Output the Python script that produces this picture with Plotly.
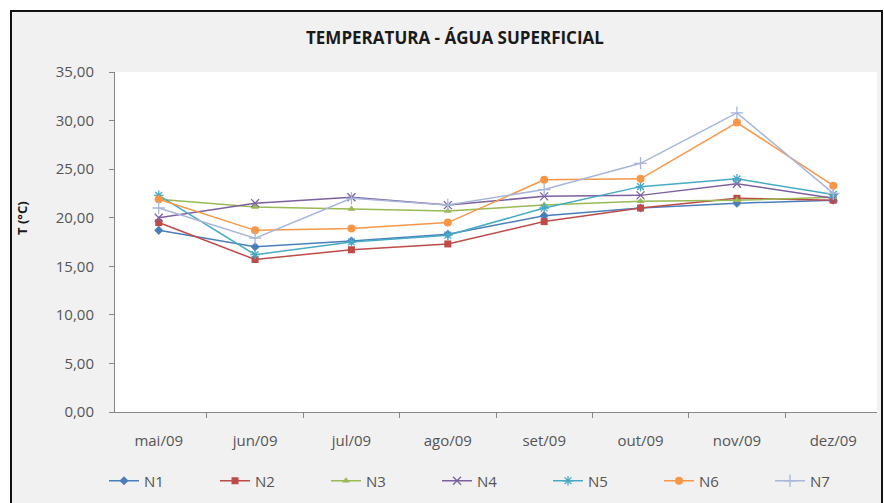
import plotly.graph_objects as go

months = ["mai/09", "jun/09", "jul/09", "ago/09", "set/09", "out/09", "nov/09", "dez/09"]
N1 = [18.7, 17.0, 17.6, 18.3, 20.2, 21.0, 21.5, 21.8]
N2 = [19.5, 15.7, 16.7, 17.3, 19.6, 21.0, 22.0, 21.8]
N3 = [21.9, 21.1, 20.9, 20.7, 21.3, 21.7, 21.8, 22.1]
N4 = [20.0, 21.5, 22.1, 21.3, 22.2, 22.3, 23.5, 22.0]
N5 = [22.3, 16.2, 17.5, 18.2, 21.0, 23.2, 24.0, 22.4]
N6 = [21.9, 18.7, 18.9, 19.5, 23.9, 24.0, 29.8, 23.3]
N7 = [21.0, 17.9, 22.0, 21.3, 22.9, 25.6, 30.8, 22.5]
series_names = ["N1", "N2", "N3", "N4", "N5", "N6", "N7"]
series_values = [N1, N2, N3, N4, N5, N6, N7]

colors = ["#4A7EBB", "#BE4B48", "#98B954", "#7D60A0", "#46AAC5", "#F79646", "#A8B6DA"]
symbols = ["diamond", "square", "triangle-up", "x-thin-open", "asterisk-open", "circle", "cross-thin-open"]
sizes = [7, 7, 7, 8, 8, 8, 9]

W, H = 884, 503
L, R, T, B = 115, 7, 72, 91
pw, ph = W - L - R, H - T - B

def px(x):
    return (x - L) / pw

def py(y):
    return (H - B - y) / ph

fig = go.Figure()
for name, vals, c, s, sz in zip(series_names, series_values, colors, symbols, sizes):
    open_sym = s.endswith("open")
    fig.add_trace(go.Scatter(
        x=months, y=vals, name=name, mode="lines+markers",
        line=dict(color=c, width=1.5),
        marker=dict(symbol=s, size=sz, color=c,
                    line=dict(color=c, width=1.3 if open_sym else 0)),
    ))

font = "Open Sans, Liberation Sans, sans-serif"

shapes = [
    dict(type="rect", xref="paper", yref="paper", x0=px(0), x1=px(W), y0=py(0), y1=py(10),
         fillcolor="white", line=dict(width=0), layer="above"),
    dict(type="rect", xref="paper", yref="paper", x0=px(0), x1=px(10), y0=py(0), y1=py(H),
         fillcolor="white", line=dict(width=0), layer="above"),
    dict(type="rect", xref="paper", yref="paper", x0=px(882), x1=px(W), y0=py(0), y1=py(H),
         fillcolor="white", line=dict(width=0), layer="above"),
    dict(type="rect", xref="paper", yref="paper", x0=px(11), x1=px(882), y0=py(11), y1=py(H + 5),
         fillcolor="rgba(0,0,0,0)", line=dict(color="#111111", width=2), layer="above"),
]

fig.update_layout(
    width=W, height=H,
    margin=dict(l=L, r=R, t=T, b=B, autoexpand=False),
    paper_bgcolor="#f1f1f1",
    plot_bgcolor="white",
    separators=",.",
    font=dict(family=font, size=15, color="#555555"),
    showlegend=True,
    legend=dict(orientation="h", x=px(104), xanchor="left", y=py(481), yanchor="middle",
                entrywidth=66, entrywidthmode="pixels", bgcolor="rgba(0,0,0,0)",
                font=dict(family=font, size=15, color="#555555"), traceorder="normal"),
    shapes=shapes,
    annotations=[
        dict(text="<b>TEMPERATURA - ÁGUA SUPERFICIAL</b>", xref="paper", yref="paper",
             x=px(455), y=py(38), showarrow=False, xanchor="center", yanchor="middle",
             font=dict(family=font, size=17, color="#1a1a1a")),
        dict(text="<b>T (°C)</b>", xref="paper", yref="paper", x=px(22), y=py(218),
             textangle=-90, showarrow=False, xanchor="center", yanchor="middle",
             font=dict(family=font, size=13, color="#1a1a1a")),
    ],
)

fig.update_xaxes(
    type="category", showline=True, linecolor="#868686", linewidth=1,
    ticks="outside", ticklen=5, tickcolor="#868686", tickson="boundaries",
    showgrid=False, zeroline=False, ticklabelstandoff=15,
    tickfont=dict(family=font, size=15, color="#555555"),
)
fig.update_yaxes(
    range=[0, 35], dtick=5, tick0=0, tickformat=".2f",
    showline=True, linecolor="#868686", linewidth=1,
    ticks="outside", ticklen=5, tickcolor="#868686",
    showgrid=False, zeroline=False, ticklabelstandoff=12,
    tickfont=dict(family=font, size=15, color="#555555"),
)

fig.write_html("out.html")
